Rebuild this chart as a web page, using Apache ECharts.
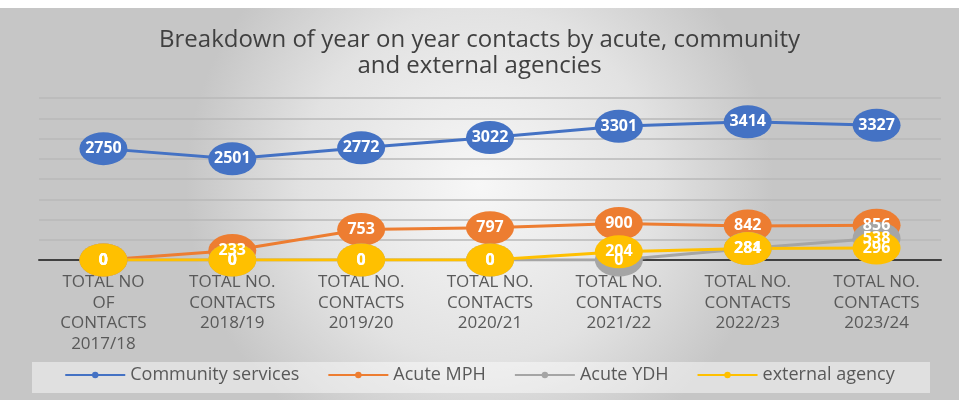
<!DOCTYPE html>
<html>
<head>
<meta charset="utf-8">
<script src="https://cdn.jsdelivr.net/npm/echarts@6/dist/echarts.min.js"></script>
<style>
  html, body { margin: 0; padding: 0; background: #fff; }
  #maindiv { width: 959px; height: 400px; }
</style>
</head>
<body>
<div id="maindiv"></div>
<script>
// categories and values
var categories = [
    'TOTAL NO\nOF\nCONTACTS\n2017/18',
    'TOTAL NO.\nCONTACTS\n2018/19',
    'TOTAL NO.\nCONTACTS\n2019/20',
    'TOTAL NO.\nCONTACTS\n2020/21',
    'TOTAL NO.\nCONTACTS\n2021/22',
    'TOTAL NO.\nCONTACTS\n2022/23',
    'TOTAL NO.\nCONTACTS\n2023/24'
];
var communityData = [2750, 2501, 2772, 3022, 3301, 3414, 3327];
var acuteMphData = [0, 233, 753, 797, 900, 842, 856];
var acuteYdhData = [0, 0, 0, 0, 0, 284, 538];
var externalData = [0, 0, 0, 0, 204, 281, 296];

var seriesNames = ['Community services', 'Acute MPH', 'Acute YDH', 'external agency'];
var seriesColors = ['#4472C4', '#ED7D31', '#A5A5A5', '#FFC000'];
var seriesValues = [communityData, acuteMphData, acuteYdhData, externalData];

var FONT = 'Open Sans';

function makeSeries(i) {
    return {
        name: seriesNames[i],
        type: 'line',
        data: seriesValues[i],
        symbol: 'circle',
        symbolSize: [48, 33],
        lineStyle: { color: seriesColors[i], width: 3 },
        itemStyle: { color: seriesColors[i] },
        label: {
            show: true,
            position: 'inside',
            color: '#fff',
            fontFamily: FONT,
            fontWeight: 'bold',
            fontSize: 16
        },
        emphasis: { disabled: true },
        animation: false
    };
}

var chart = echarts.init(document.getElementById('maindiv'));
chart.setOption({
    animation: false,
    graphic: [
        {
            type: 'rect', z: -10, silent: true,
            shape: { x: 0, y: 8, width: 959, height: 392 },
            style: {
                fill: new echarts.graphic.RadialGradient(0.5, 0.45, 0.75, [
                    { offset: 0, color: '#f7f7f7' },
                    { offset: 0.6, color: '#e2e2e2' },
                    { offset: 1, color: '#c6c6c6' }
                ])
            }
        },
        {
            type: 'rect', z: -5, silent: true,
            shape: { x: 32, y: 362, width: 898, height: 31 },
            style: { fill: 'rgba(255,255,255,0.45)' }
        }
    ],
    title: {
        text: 'Breakdown of year on year contacts by acute, community\nand external agencies',
        left: 'center',
        top: 22,
        textStyle: {
            fontFamily: FONT,
            fontWeight: 'normal',
            fontSize: 24,
            color: '#404040',
            lineHeight: 26
        }
    },
    legend: {
        data: seriesNames,
        bottom: 11,
        left: 'center',
        itemWidth: 60,
        itemHeight: 8,
        itemGap: 28,
        textStyle: { fontFamily: FONT, fontSize: 18, color: '#595959' }
    },
    grid: { left: 39, right: 18, top: 98, bottom: 140 },
    xAxis: {
        type: 'category',
        data: categories,
        boundaryGap: true,
        axisLine: { lineStyle: { color: '#404040', width: 2 } },
        axisTick: { show: false },
        axisLabel: {
            interval: 0,
            margin: 12,
            fontFamily: FONT,
            fontSize: 17,
            lineHeight: 20.5,
            color: '#595959'
        }
    },
    yAxis: {
        type: 'value',
        min: 0,
        max: 4000,
        interval: 500,
        axisLabel: { show: false },
        axisLine: { show: false },
        axisTick: { show: false },
        splitLine: { lineStyle: { color: '#b8b8b8', width: 1.5 } }
    },
    series: [makeSeries(0), makeSeries(1), makeSeries(2), makeSeries(3)]
});
</script>
</body>
</html>
